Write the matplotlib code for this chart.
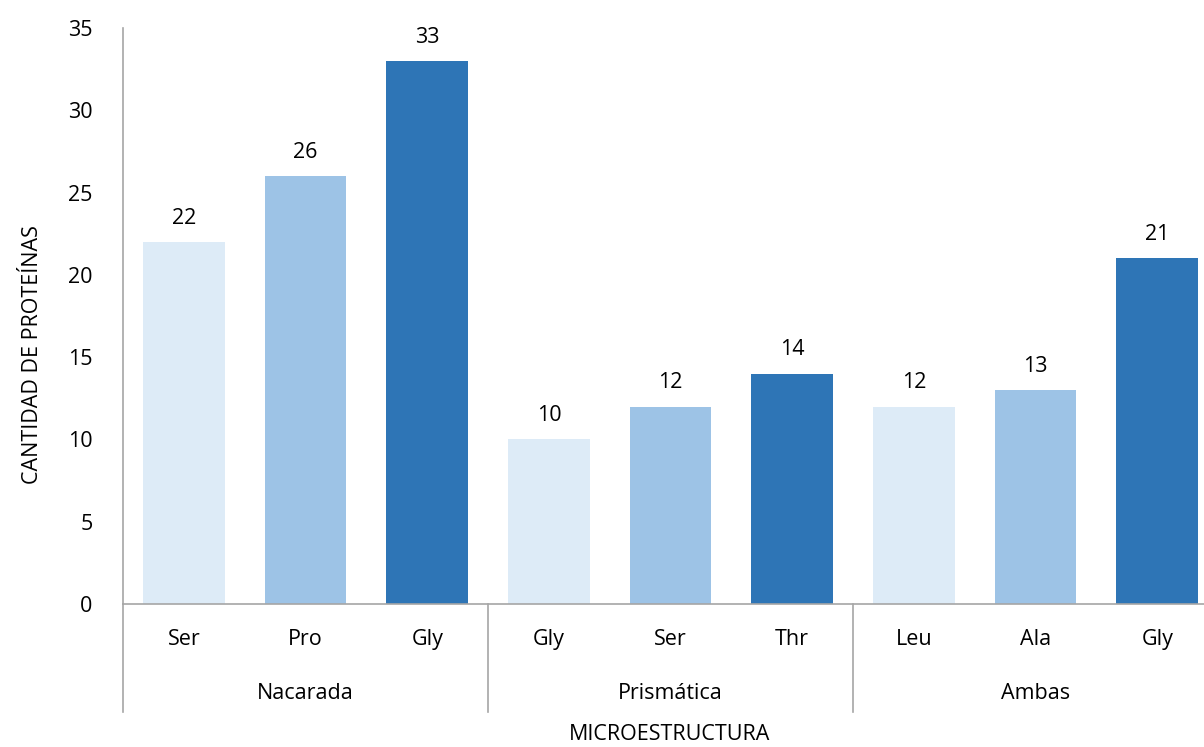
import matplotlib.pyplot as plt
import numpy as np

plt.rcParams['font.family'] = ['Open Sans', 'DejaVu Sans']

groups = ['Nacarada', 'Prismática', 'Ambas']
aminoacids = ['Ser', 'Pro', 'Gly', 'Gly', 'Ser', 'Thr', 'Leu', 'Ala', 'Gly']
counts = [22, 26, 33, 10, 12, 14, 12, 13, 21]
shades = ['#DDEBF7', '#9DC3E6', '#2E75B6']

fig = plt.figure(figsize=(12.04, 7.47), dpi=100)
ax = fig.add_axes([0.1022, 0.1914, 0.9095, 0.7711])

x = np.arange(len(counts))
colors = [shades[i % 3] for i in range(len(counts))]
bars = ax.bar(x, counts, width=0.67, color=colors, zorder=2)
for b, v in zip(bars, counts):
    ax.text(b.get_x() + b.get_width() / 2, v + 0.8, str(v), ha='center', va='bottom', fontsize=15.5)

ax.set_xlim(-0.5, len(counts) - 0.5)
ax.set_ylim(0, 35)
ax.set_yticks(range(0, 36, 5))
ax.tick_params(axis='y', length=0, labelsize=15.5, pad=22)
ax.set_xticks([])
for s in ['top', 'right']:
    ax.spines[s].set_visible(False)
ax.spines['left'].set_color('#a6a6a6')
ax.spines['bottom'].set_color('#a6a6a6')
ax.spines['left'].set_linewidth(1.2)
ax.spines['bottom'].set_linewidth(1.2)

trans = ax.get_xaxis_transform()
for i, a in enumerate(aminoacids):
    ax.text(i, -0.062, a, transform=trans, ha='center', va='center', fontsize=15.5)
for g, name in enumerate(groups):
    ax.text(g * 3 + 1, -0.156, name, transform=trans, ha='center', va='center', fontsize=15.5)
for sep in [-0.5, 2.5, 5.5]:
    ax.plot([sep, sep], [0, -0.188], transform=trans, color='#a6a6a6', lw=1.2, clip_on=False)

fig.text(0.556, 0.003, 'MICROESTRUCTURA', ha='center', va='bottom', fontsize=15.5)
fig.text(0.027, 0.525, 'CANTIDAD DE PROTEÍNAS', rotation=90, ha='center', va='center', fontsize=15.5)

fig.savefig('out.png', dpi=100)
